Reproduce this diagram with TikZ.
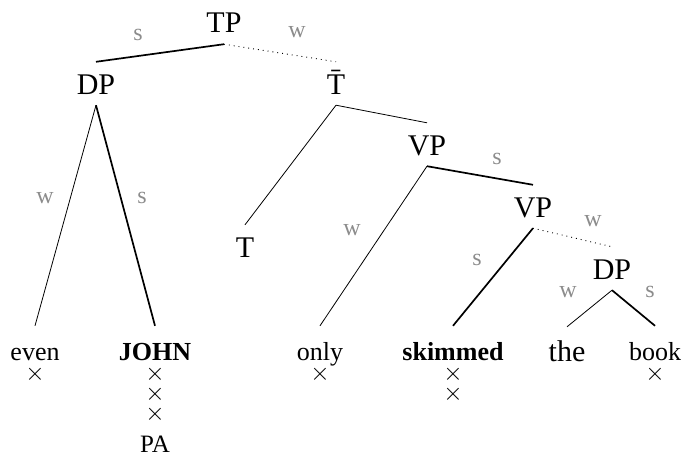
\documentclass[tikz,border=0pt]{standalone}
\usepackage{fontspec}
\setmainfont{Liberation Serif}
\begin{document}
\begin{tikzpicture}[x=1pt,y=-1pt,
  phr/.style={font=\fontsize{30}{32}\selectfont, anchor=base, text height=21pt, text depth=0pt, inner xsep=0pt, inner ysep=11pt},
  wrd/.style={font=\fontsize{26}{28}\selectfont, anchor=base, text height=20pt, text depth=0pt, inner xsep=0pt, inner ysep=14pt},
  sw/.style={font=\fontsize{24}{26}\selectfont, text=black!45, inner sep=0pt},
  grid/.style={font=\fontsize{24}{26}\selectfont, inner sep=0pt},
  thinedge/.style={line width=0.8pt},
  thickedge/.style={line width=1.7pt},
  dotedge/.style={line width=0.9pt, dash pattern=on 0.9pt off 4pt}
]
\useasboundingbox (0,0) rectangle (685,452);
% phrase nodes
\node[phr] (TP) at (224,33) {TP};
\node[phr] (DP) at (96,94) {DP};
\node[phr] (Tb) at (336,94) {\=T};
\node[phr] (T) at (245,257) {T};
\node[phr] (VP) at (427,155) {VP};
\node[phr] (VPb) at (533,217) {VP};
\node[phr] (DPb) at (612,279) {DP};
% words
\node[wrd] (even) at (35,360) {even};
\node[wrd] (john) at (155,360) {\textbf{JOHN}};
\node[wrd] (only) at (320,360) {only};
\node[wrd] (skim) at (453,360) {\textbf{skimmed}};
\node[wrd, font=\fontsize{30}{32}\selectfont] (the) at (567,361) {the};
\node[wrd] (book) at (655,360) {book};
% grid marks
\node[grid] (g1) at (35,374) {$\times$};
\node[grid] (g2) at (155,374) {$\times$};
\node[grid] (g3) at (155,394) {$\times$};
\node[grid] (g4) at (155,414) {$\times$};
\node[grid] (g5) at (320,374) {$\times$};
\node[grid] (g6) at (453,374) {$\times$};
\node[grid] (g7) at (453,394) {$\times$};
\node[grid] (g8) at (655,374) {$\times$};
\node[font=\fontsize{25}{27}\selectfont, anchor=base, inner sep=0pt] (pa) at (155,452) {PA};
% edges
\draw[thickedge] (TP.south) -- (DP.north);
\draw[dotedge] (TP.south) -- (Tb.north);
\draw[thinedge] (DP.south) -- (even.north);
\draw[thickedge] (DP.south) -- (john.north);
\draw[thinedge] (Tb.south) -- (T.north);
\draw[thinedge] (Tb.south) -- (VP.north);
\draw[thinedge] (VP.south) -- (only.north);
\draw[thickedge] (VP.south) -- (VPb.north);
\draw[thickedge] (VPb.south) -- (skim.north);
\draw[dotedge] (VPb.south) -- (DPb.north);
\draw[thinedge] (DPb.south) -- (the.north);
\draw[thickedge] (DPb.south) -- (book.north);
% s/w labels
\node[sw] (l1) at (138,35) {s};
\node[sw] (l2) at (297,32) {w};
\node[sw] (l3) at (45,198) {w};
\node[sw] (l4) at (142,198) {s};
\node[sw] (l5) at (352,230) {w};
\node[sw] (l6) at (497,159) {s};
\node[sw] (l7) at (593,221) {w};
\node[sw] (l8) at (477,260) {s};
\node[sw] (l9) at (568,292) {w};
\node[sw] (l10) at (650,292) {s};
\end{tikzpicture}
\end{document}
